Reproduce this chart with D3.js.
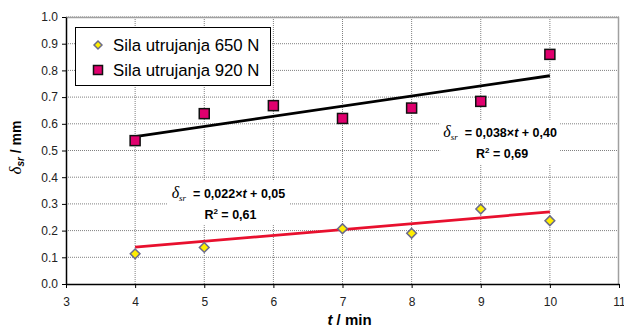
<!DOCTYPE html>
<html>
<head>
<meta charset="utf-8">
<script src="https://cdn.jsdelivr.net/npm/d3@7"></script>
<style>
  body { margin: 0; background: #fff; }
  svg { font-family: "Liberation Sans", Arial, sans-serif; }
</style>
</head>
<body>
<div id="chart"></div>
<script>
// data
const t650 = [4, 5, 7, 8, 9, 10];
const d650 = [0.113, 0.137, 0.207, 0.19, 0.281, 0.237];
const t920 = [4, 5, 6, 7, 8, 9, 10];
const d920 = [0.537, 0.638, 0.668, 0.62, 0.659, 0.684, 0.86];

const seriesNames = ["Sila utrujanja 650 N", "Sila utrujanja 920 N"];
// trend lines as given in the labels
const trendSlope = [0.022, 0.038];
const trendIntercept = [0.05, 0.40];
const trendText = ["0,022", "0,038"];
const trendIcText = ["0,05", "0,40"];
const r2Text = ["0,61", "0,69"];

const xTicks = [3, 4, 5, 6, 7, 8, 9, 10, 11];
const yTicks = [0, 0.1, 0.2, 0.3, 0.4, 0.5, 0.6, 0.7, 0.8, 0.9, 1.0];

const width = 624, height = 329;
const margin = { top: 17, right: 5, bottom: 45, left: 66 };
const iw = width - margin.left - margin.right;
const ih = height - margin.top - margin.bottom;

const svg = d3.select("#chart").append("svg")
  .attr("width", width)
  .attr("height", height);

const g = svg.append("g")
  .attr("transform", `translate(${margin.left},${margin.top})`);

const x = d3.scaleLinear().domain([3, 11]).range([0, iw]);
const y = d3.scaleLinear().domain([0, 1]).range([ih, 0]);

// grid
g.append("g").selectAll("line")
  .data(yTicks.slice(1))
  .join("line")
  .attr("x1", 0).attr("x2", iw)
  .attr("y1", d => y(d)).attr("y2", d => y(d))
  .attr("stroke", "#808080").attr("stroke-width", 1)
  .attr("stroke-dasharray", "1,1");
g.append("g").selectAll("line")
  .data(xTicks.slice(1, -1))
  .join("line")
  .attr("x1", d => x(d)).attr("x2", d => x(d))
  .attr("y1", 0).attr("y2", ih)
  .attr("stroke", "#808080").attr("stroke-width", 1)
  .attr("stroke-dasharray", "1,1");

// plot border top/right
g.append("path")
  .attr("d", `M0,0.5H${iw - 0.5}V${ih}`)
  .attr("fill", "none").attr("stroke", "#a0a0a0").attr("stroke-width", 1.5);

// axes
const xAxis = g.append("g")
  .attr("transform", `translate(0,${ih})`)
  .call(d3.axisBottom(x).tickValues(xTicks).tickFormat(d3.format("d")).tickSizeInner(4).tickSizeOuter(0).tickPadding(9));
const yAxis = g.append("g")
  .call(d3.axisLeft(y).tickValues(yTicks).tickFormat(d3.format(".1f")).tickSizeInner(4).tickSizeOuter(0).tickPadding(4));
[xAxis, yAxis].forEach(a => {
  a.select(".domain").attr("stroke", "#000").attr("stroke-width", 1.5);
  a.selectAll(".tick line").attr("stroke", "#000");
  a.selectAll(".tick text").attr("font-size", 12).attr("fill", "#222")
    .attr("font-family", "'Liberation Sans', Arial, sans-serif");
});

// where the equation labels sit (data coordinates of the label centre)
const labelPos = [
  { x: 5.35, y: 0.303, w: 122 },
  { x: 9.28, y: 0.532, w: 120 }
];
labelPos.forEach((p, i) => {
  g.append("rect")
    .attr("x", x(p.x) - p.w / 2).attr("y", y(p.y) - 22)
    .attr("width", p.w).attr("height", 44)
    .attr("fill", "#fff");
});

// trend lines
const trendColor = ["#e8102e", "#000"];
[t650, t920].forEach((ts, i) => {
  const x0 = d3.min(ts), x1 = d3.max(ts);
  g.append("line")
    .attr("x1", x(x0)).attr("y1", y(trendSlope[i] * x0 + trendIntercept[i]))
    .attr("x2", x(x1)).attr("y2", y(trendSlope[i] * x1 + trendIntercept[i]))
    .attr("stroke", trendColor[i]).attr("stroke-width", 2.8);
});

// markers
const diamond = d3.symbol().type(d3.symbolDiamond2).size(60);
const points650 = t650.map((t, i) => ({ t, v: d650[i] }));
const points920 = t920.map((t, i) => ({ t, v: d920[i] }));

g.append("g").selectAll("rect")
  .data(points920)
  .join("rect")
  .attr("x", d => x(d.t) - 5).attr("y", d => y(d.v) - 5)
  .attr("width", 10).attr("height", 10)
  .attr("fill", "#e0006e").attr("stroke", "#111").attr("stroke-width", 1.5);

g.append("g").selectAll("path")
  .data(points650)
  .join("path")
  .attr("transform", d => `translate(${x(d.t)},${y(d.v)})`)
  .attr("d", diamond)
  .attr("fill", "#ffee00").attr("stroke", "#6b6b8a").attr("stroke-width", 1.5);

// equation labels
labelPos.forEach((p, i) => {
  const cx = x(p.x), cy = y(p.y);
  const eq = g.append("text")
    .attr("x", cx).attr("y", cy - 5)
    .attr("text-anchor", "middle")
    .attr("font-size", 12.5).attr("font-weight", "bold");
  eq.append("tspan").attr("font-family", "'Liberation Serif', 'Times New Roman', serif")
    .attr("font-style", "italic").attr("font-weight", "normal").attr("font-size", 16).text("δ");
  eq.append("tspan").attr("font-family", "'Liberation Serif', 'Times New Roman', serif")
    .attr("font-style", "italic").attr("font-weight", "normal").attr("font-size", 9)
    .attr("dy", 3).text("sr");
  eq.append("tspan").attr("dy", -3).attr("dx", 7).text(`= ${trendText[i]}×`);
  eq.append("tspan").attr("font-style", "italic").text("t");
  eq.append("tspan").text(` + ${trendIcText[i]}`);

  const r2 = g.append("text")
    .attr("x", cx + 2).attr("y", cy + 16)
    .attr("text-anchor", "middle")
    .attr("font-size", 12.5).attr("font-weight", "bold");
  r2.append("tspan").text("R");
  r2.append("tspan").attr("font-size", 8).attr("dy", -5).text("2");
  r2.append("tspan").attr("dy", 5).text(` = ${r2Text[i]}`);
});

// legend
const lg = svg.append("g").attr("transform", "translate(75,27)");
lg.append("rect")
  .attr("x", 0.5).attr("y", 0.5)
  .attr("width", 195).attr("height", 58)
  .attr("fill", "#fff").attr("stroke", "#000").attr("stroke-width", 1);
lg.append("path")
  .attr("transform", "translate(23,18)")
  .attr("d", d3.symbol().type(d3.symbolDiamond2).size(40))
  .attr("fill", "#ffee00").attr("stroke", "#6b6b8a").attr("stroke-width", 1.5);
lg.append("rect")
  .attr("x", 18.5).attr("y", 38.5).attr("width", 9).attr("height", 9)
  .attr("fill", "#e0006e").attr("stroke", "#111").attr("stroke-width", 1.5);
seriesNames.forEach((s, i) => {
  lg.append("text")
    .attr("x", 38).attr("y", 24 + i * 25)
    .attr("font-size", 16.8).attr("fill", "#000")
    .text(s);
});

// axis titles
const xt = svg.append("text")
  .attr("x", margin.left + x(7) + 7).attr("y", 325)
  .attr("text-anchor", "middle")
  .attr("font-size", 15).attr("font-weight", "bold");
xt.append("tspan").attr("font-style", "italic").text("t");
xt.append("tspan").text(" / min");

const yt = svg.append("text")
  .attr("transform", `translate(21,${margin.top + ih / 2 - 3}) rotate(-90)`)
  .attr("text-anchor", "middle")
  .attr("font-size", 14).attr("font-weight", "bold");
yt.append("tspan").attr("font-family", "'Liberation Serif', 'Times New Roman', serif")
  .attr("font-style", "italic").attr("font-weight", "normal").attr("font-size", 17).text("δ");
yt.append("tspan").attr("font-style", "italic").attr("font-size", 10).attr("dy", 3).text("sr");
yt.append("tspan").attr("dy", -3).text(" / mm");
</script>
</body>
</html>
